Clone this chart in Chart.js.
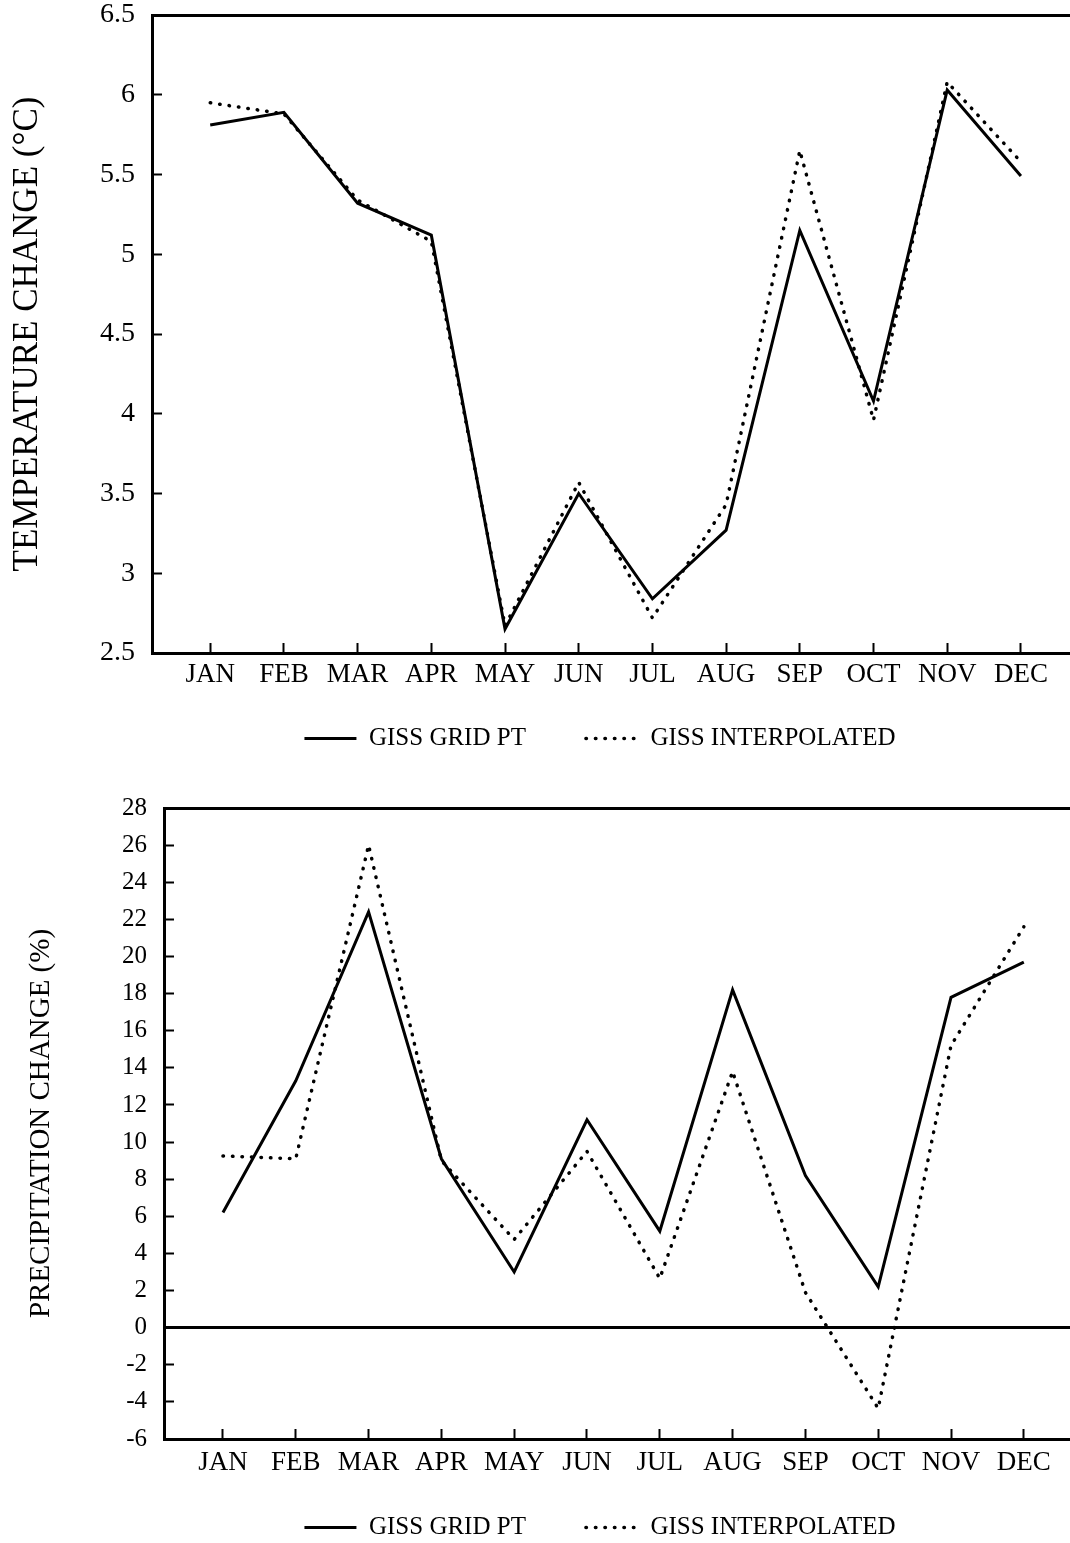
<!DOCTYPE html>
<html>
<head>
<meta charset="utf-8">
<title>GISS temperature and precipitation change</title>
<script src="https://cdn.jsdelivr.net/npm/chart.js@4.4.1/dist/chart.umd.min.js"></script>
<style>
    html, body { margin: 0; padding: 0; background: #fff; overflow: hidden; width: 1070px; height: 1543px; }
    .box { position: absolute; left: 0; width: 1200px; }
    #box1 { top: 0; height: 790px; }
    #box2 { top: 770px; height: 809px; }
</style>
</head>
<body>
<div class="box" id="box1"><canvas id="chart1"></canvas></div>
<div class="box" id="box2"><canvas id="chart2"></canvas></div>
<script>
var months = ['JAN', 'FEB', 'MAR', 'APR', 'MAY', 'JUN', 'JUL', 'AUG', 'SEP', 'OCT', 'NOV', 'DEC'];
var seriesNames = ['GISS GRID PT', 'GISS INTERPOLATED'];

// temperature change (°C)
var tempGridPt = [5.81, 5.89, 5.32, 5.12, 2.65, 3.50, 2.84, 3.27, 5.15, 4.08, 6.03, 5.49];
var tempInterp = [5.95, 5.88, 5.34, 5.08, 2.67, 3.57, 2.72, 3.43, 5.65, 3.96, 6.08, 5.58];

// precipitation change (%)
var precipGridPt = [6.2, 13.3, 22.4, 9.1, 3.0, 11.2, 5.2, 18.2, 8.2, 2.2, 17.8, 19.7];
var precipInterp = [9.25, 9.1, 26.0, 9.0, 4.75, 9.5, 2.65, 13.8, 1.9, -4.35, 15.2, 21.6];

var serif = "'Liberation Serif', 'Times New Roman', serif";
Chart.defaults.font.family = serif;
Chart.defaults.color = '#000';

function toPoints(values) {
    return values.map(function(v, i) { return { x: i, y: v }; });
}

function makeDatasets(solid, dotted) {
    return [{
        label: seriesNames[0],
        data: toPoints(solid),
        borderColor: '#000',
        borderWidth: 3,
        pointRadius: 0,
        tension: 0
    }, {
        label: seriesNames[1],
        data: toPoints(dotted),
        borderColor: '#000',
        borderWidth: 3.5,
        borderDash: [0.5, 9],
        borderCapStyle: 'round',
        pointRadius: 0,
        tension: 0
    }];
}

// legend samples: short line in the dataset's own dash pattern
function legendLabels(chart) {
    return chart.data.datasets.map(function(ds, i) {
        return {
            text: ds.label,
            fillStyle: '#000',
            strokeStyle: '#000',
            fontColor: '#000',
            lineWidth: ds.borderWidth,
            lineDash: ds.borderDash || [],
            lineCap: ds.borderCapStyle || 'butt',
            pointStyle: 'line',
            hidden: false,
            datasetIndex: i
        };
    });
}

function makeChart(id, opt) {
    var ctx = document.getElementById(id).getContext('2d');
    // pull the legend row a bit closer to the month labels
    var legendNudge = {
        id: 'legendNudge',
        afterLayout: function(chart) {
            chart.legend.top -= opt.legendShift;
            chart.legend.bottom -= opt.legendShift;
        }
    };
    return new Chart(ctx, {
        type: 'line',
        data: { datasets: makeDatasets(opt.solid, opt.dotted) },
        plugins: [legendNudge],
        options: {
            responsive: true,
            maintainAspectRatio: false,
            animation: false,
            layout: { padding: { top: opt.padTop, bottom: 0, left: 0, right: 0 } },
            plugins: {
                tooltip: { enabled: false },
                legend: {
                    position: 'bottom',
                    labels: {
                        usePointStyle: true,
                        pointStyleWidth: 52,
                        padding: 60,
                        font: { size: 25 },
                        color: '#000',
                        generateLabels: legendLabels
                    }
                }
            },
            scales: {
                x: {
                    type: 'linear',
                    min: opt.xMin,
                    max: opt.xMax,
                    afterBuildTicks: function(s) {
                        s.ticks = months.map(function(m, i) { return { value: i }; });
                    },
                    afterFit: function(s) { s.height = opt.xAxisH; },
                    ticks: {
                        autoSkip: false,
                        maxRotation: 0,
                        padding: opt.xLabelPad,
                        font: { size: 27 },
                        callback: function(v) { return months[v]; }
                    },
                    grid: { drawOnChartArea: false, tickLength: -10, tickWidth: 2, tickColor: '#000' },
                    border: { color: '#000', width: 3 }
                },
                xTop: {
                    type: 'linear',
                    axis: 'x',
                    position: 'top',
                    min: opt.xMin,
                    max: opt.xMax,
                    afterFit: function(s) { s.height = 0; },
                    ticks: { display: false },
                    grid: { display: false },
                    border: { color: '#000', width: 3 }
                },
                y: {
                    type: 'linear',
                    min: opt.yMin,
                    max: opt.yMax,
                    afterFit: function(s) {
                        s.width = opt.yAxisW;
                        s.paddingTop = 0;
                        s.paddingBottom = 0;
                    },
                    ticks: {
                        stepSize: opt.yStep,
                        autoSkip: false,
                        padding: 27,
                        font: { size: opt.yFont },
                        callback: function(v) { return String(v); }
                    },
                    grid: {
                        drawOnChartArea: opt.zeroLine,
                        tickLength: -10,
                        tickWidth: 2,
                        tickColor: '#000',
                        color: function(c) { return c.tick && c.tick.value === 0 ? '#000' : 'rgba(0,0,0,0)'; },
                        lineWidth: function(c) { return c.tick && c.tick.value === 0 ? 3 : 1; }
                    },
                    border: { color: '#000', width: 3 },
                    title: {
                        display: true,
                        text: opt.yTitle,
                        font: { size: opt.titleFont },
                        color: '#000',
                        padding: { top: opt.titlePad, bottom: 0 }
                    }
                }
            }
        }
    });
}

window.onload = function() {
    makeChart('chart1', {
        solid: tempGridPt, dotted: tempInterp,
        yMin: 2.5, yMax: 6.5, yStep: 0.5, yFont: 28,
        xMin: -0.79, xMax: 13.43,
        yTitle: 'TEMPERATURE CHANGE (°C)', titleFont: 35, titlePad: 7,
        yAxisW: 152, xAxisH: 42, xLabelPad: 16,
        padTop: 15, legendShift: 29
    });
    makeChart('chart2', {
        solid: precipGridPt, dotted: precipInterp,
        yMin: -6, yMax: 28, yStep: 2, yFont: 25,
        xMin: -0.81, xMax: 13.42,
        yTitle: 'PRECIPITATION CHANGE (%)', titleFont: 29, titlePad: 24,
        yAxisW: 164, xAxisH: 45, xLabelPad: 18,
        padTop: 38, legendShift: 29
    });
};
</script>
</body>
</html>
